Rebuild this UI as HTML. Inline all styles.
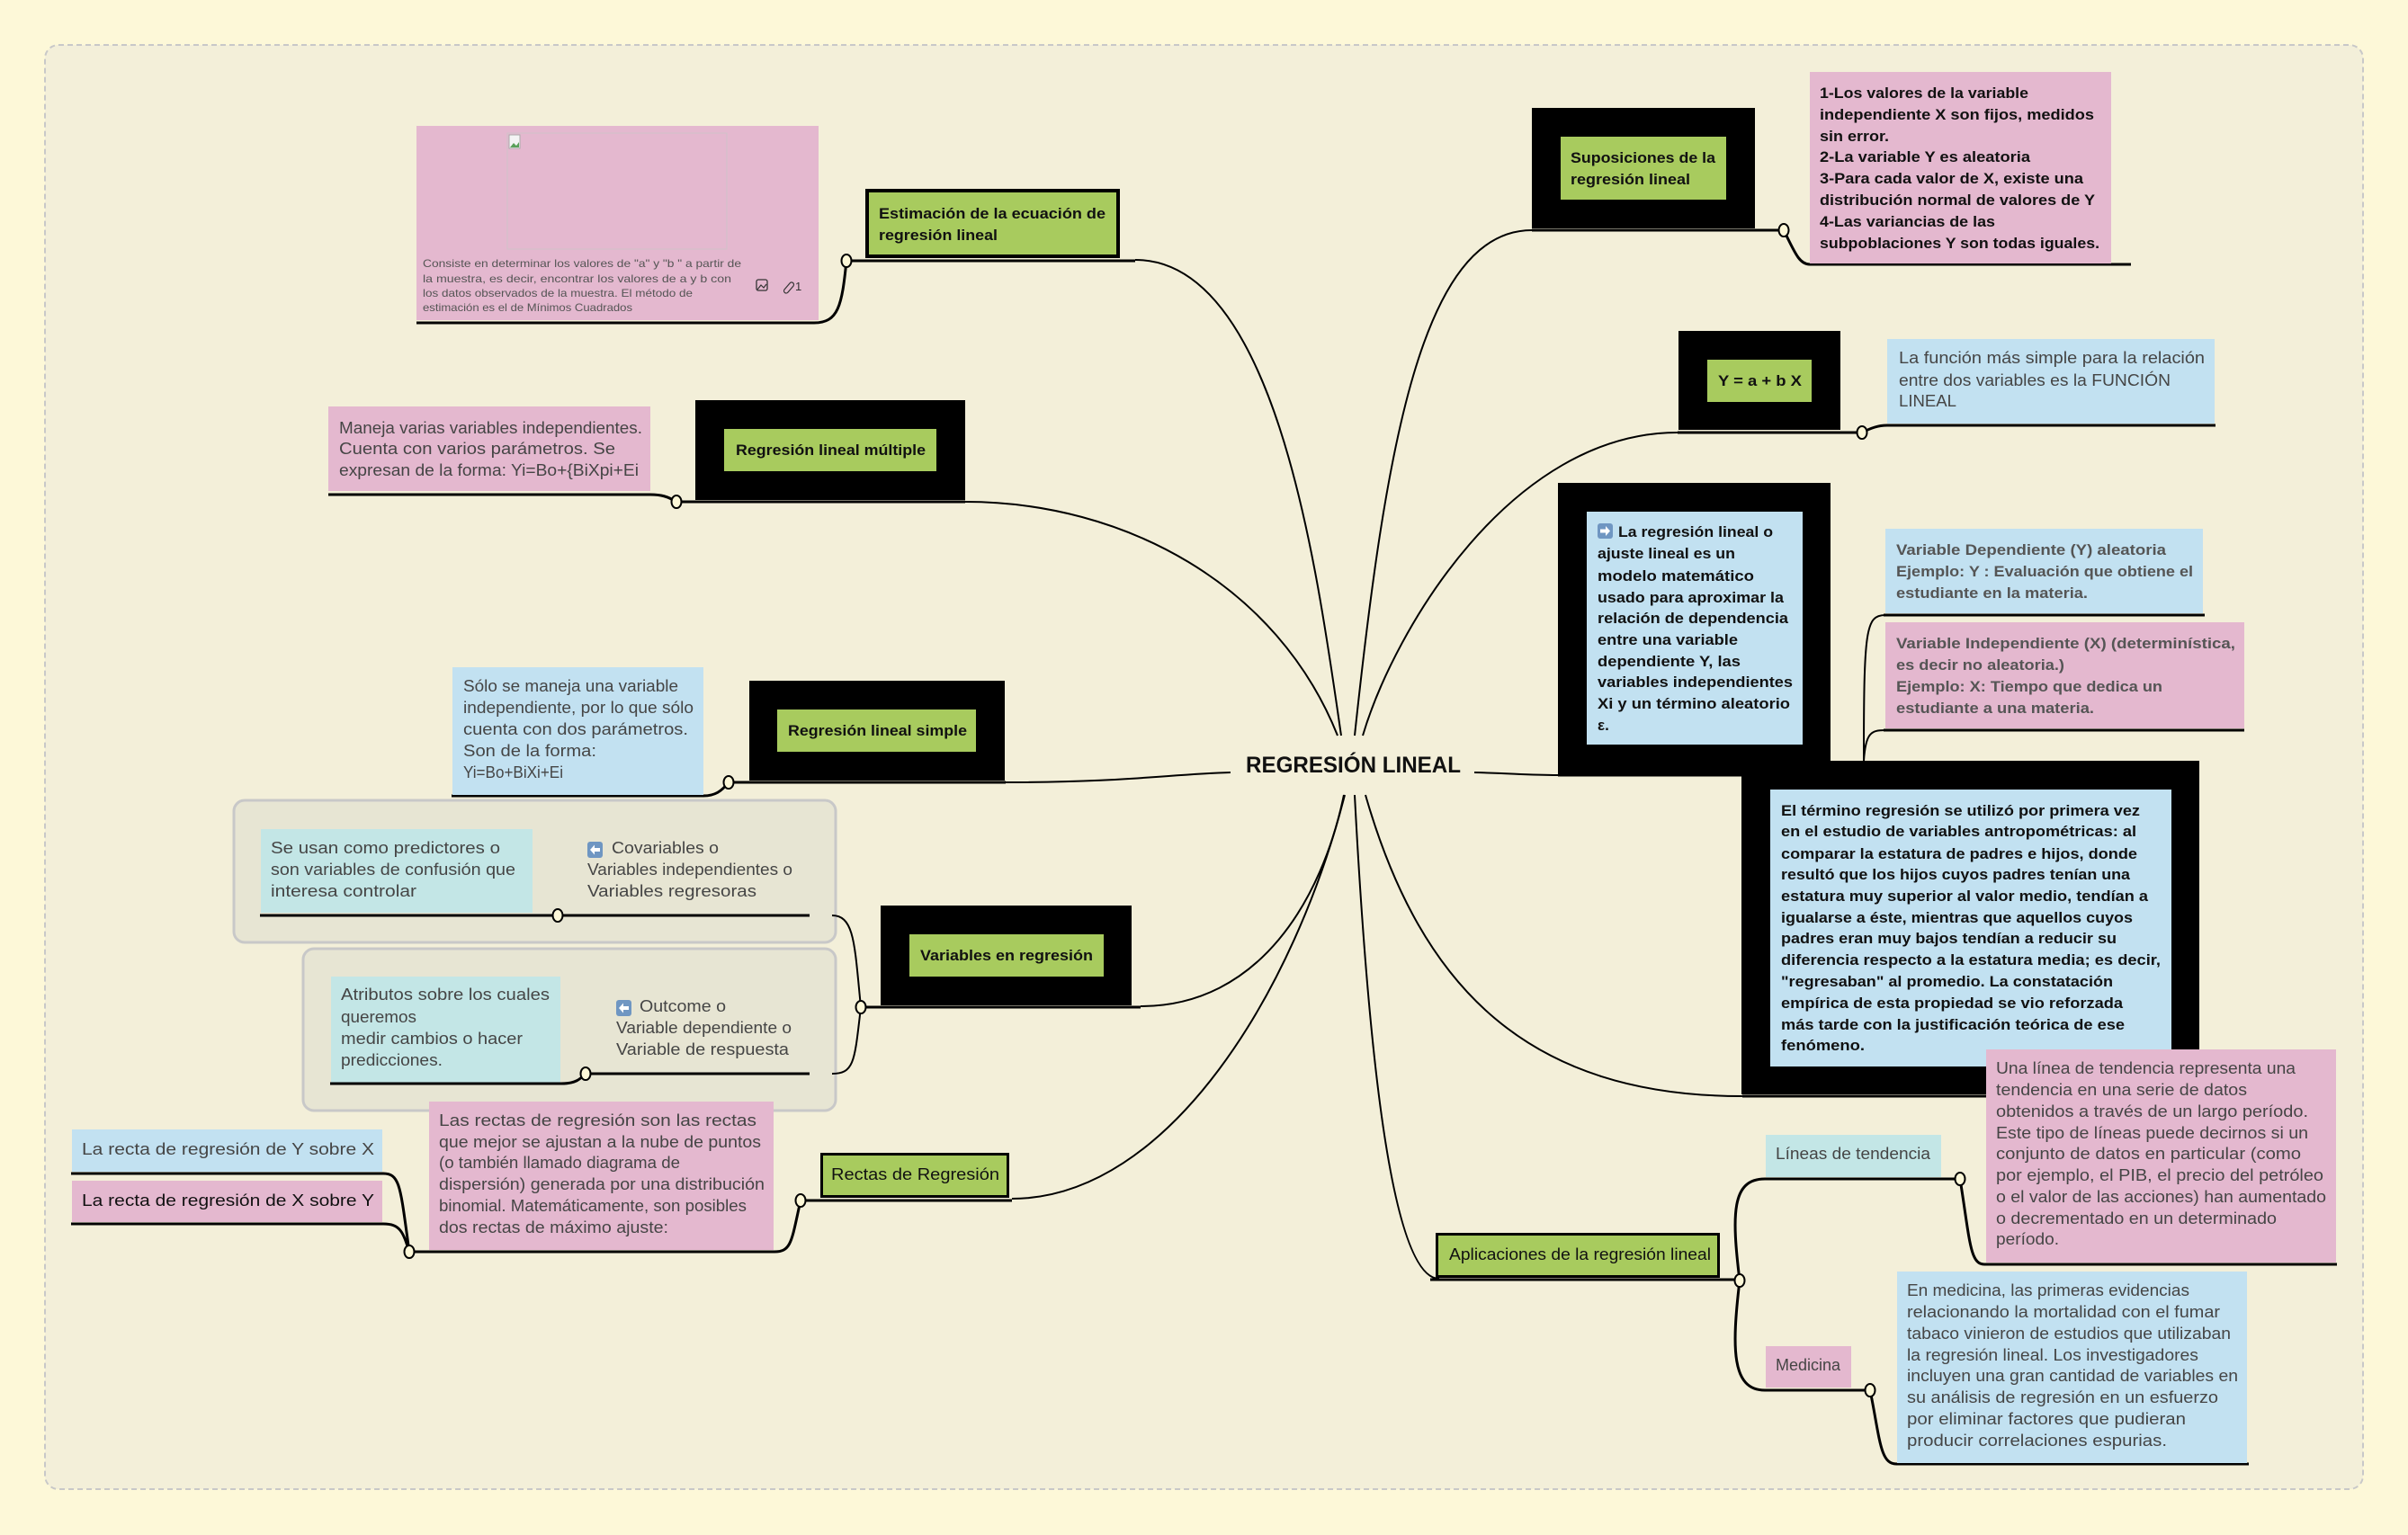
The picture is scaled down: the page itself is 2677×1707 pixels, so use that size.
<!DOCTYPE html>
<html>
<head>
<meta charset="utf-8">
<style>
html,body{margin:0;padding:0;background:#fdf8d8;}
svg{display:block;}
.h{font-family:"Liberation Sans",sans-serif;font-size:18px;fill:#454545;}
.hb{font-family:"Liberation Sans",sans-serif;font-size:18px;fill:#111;}
.b{font-family:"Liberation Sans",sans-serif;font-size:17px;font-weight:bold;fill:#111;}
.gb{font-family:"Liberation Sans",sans-serif;font-size:17px;font-weight:bold;fill:#555;}
.s{font-family:"Liberation Sans",sans-serif;font-size:12px;fill:#555;}
.c{fill:none;stroke:#000;stroke-width:2;}
.u{fill:none;stroke:#000;stroke-width:3;}
.k{fill:#fdf8d8;stroke:#000;stroke-width:2;}
</style>
</head>
<body>
<svg width="2677" height="1707" viewBox="0 0 2677 1707" xmlns="http://www.w3.org/2000/svg">
<rect x="0" y="0" width="2677" height="1707" fill="#fdf8d8"/>
<rect x="50" y="50" width="2577" height="1606" rx="15" ry="15" fill="#f3efd9" stroke="#c8c8c8" stroke-width="2" stroke-dasharray="6 4"/>

<!-- main connectors -->
<path class="c" d="M1491,818 C1465,640 1420,289 1262,289"/>
<path class="c" d="M1487,818 C1420,650 1250,558 1073,558"/>
<path class="c" d="M1506,818 C1540,500 1580,256 1703,256"/>
<path class="c" d="M1515,818 C1550,700 1680,481 1865,481"/>
<path class="c" d="M1368,859 C1300,861 1250,870 1118,870"/>
<path class="c" d="M1639,859 C1680,860 1700,862 1732,862"/>
<path class="c" d="M1494,884 C1470,1000 1400,1119 1268,1119"/>
<path class="c" d="M1495,884 C1440,1100 1300,1333 1125,1333"/>
<path class="c" d="M1506,884 C1520,1150 1545,1422 1600,1422"/>
<path class="c" d="M1518,884 C1580,1100 1700,1219 1937,1219"/>

<!-- underlines & child connectors -->
<path class="u" d="M941,290 H1262"/>
<path class="u" d="M941,290 C936,340 932,359 905,359 H463"/>
<path class="u" d="M752,558 H1073"/>
<path class="u" d="M752,558 C742,552 735,550 723,550 H365"/>
<path class="u" d="M810,870 H1118"/>
<path class="u" d="M810,870 C802,880 795,885 782,885 H502"/>
<path class="u" d="M1732,862 H2071"/>

<!-- boxes left -->
<rect x="463" y="140" width="447" height="216" fill="#e4b8cf"/>
<rect x="564" y="148" width="244" height="129" fill="none" stroke="#d0c2c8" stroke-width="1"/>
<rect x="566" y="150" width="12" height="15" fill="#f4f4f4" stroke="#aaa" stroke-width="1"/>
<path d="M567,164 L571,159 L574,162 L577,158 V164 Z" fill="#5aa05a"/>
<rect x="964" y="212" width="279" height="73" fill="#a8cb5e" stroke="#000" stroke-width="4"/>
<rect x="773" y="445" width="300" height="111" fill="#000"/>
<rect x="805" y="477" width="236" height="47" fill="#a8cb5e"/>
<rect x="365" y="452" width="358" height="94" fill="#e4b8cf"/>
<rect x="833" y="757" width="284" height="111" fill="#000"/>
<rect x="864" y="789" width="221" height="47" fill="#a8cb5e"/>
<rect x="503" y="742" width="279" height="142" fill="#c2e1f1"/>

<rect x="260" y="890" width="669" height="158" rx="12" ry="12" fill="#e7e5d3" stroke="#c8c8c8" stroke-width="3"/>
<rect x="290" y="922" width="302" height="93" fill="#c3e6e6"/>
<rect x="337" y="1055" width="592" height="180" rx="12" ry="12" fill="#e7e5d3" stroke="#c8c8c8" stroke-width="3"/>
<rect x="368" y="1086" width="255" height="118" fill="#c3e6e6"/>
<path class="u" d="M289,1018 H900"/>
<path class="u" d="M651,1194 H900"/>
<path class="u" d="M651,1194 C645,1200 640,1205 624,1205 H367"/>
<path class="c" d="M957,1120 C950,1050 950,1018 925,1018"/>
<path class="c" d="M957,1120 C950,1180 950,1194 925,1194"/>
<path class="u" d="M957,1120 H1268"/>
<rect x="979" y="1007" width="279" height="111" fill="#000"/>
<rect x="1011" y="1039" width="216" height="47" fill="#a8cb5e"/>

<rect x="477" y="1225" width="383" height="165" fill="#e4b8cf"/>
<rect x="80" y="1256" width="345" height="47" fill="#c2e1f1"/>
<rect x="80" y="1313" width="345" height="46" fill="#e4b8cf"/>
<path class="u" d="M890,1335 H1125"/>
<path class="u" d="M890,1335 C880,1380 880,1392 861,1392 H455"/>
<path class="u" d="M455,1392 C445,1320 445,1305 426,1305 H79"/>
<path class="u" d="M455,1392 C448,1370 445,1361 426,1361 H79"/>
<rect x="913.5" y="1283.5" width="207" height="47" fill="#a8cb5e" stroke="#000" stroke-width="3"/>

<!-- boxes right -->
<path class="u" d="M1703,256 H1983"/>
<path class="u" d="M1983,256 C1995,280 2000,294 2012,294 H2369"/>
<rect x="1703" y="120" width="248" height="134" fill="#000"/>
<rect x="1735" y="152" width="184" height="70" fill="#a8cb5e"/>
<rect x="2012" y="80" width="335" height="213" fill="#e4b8cf"/>

<path class="u" d="M1865,481 H2070"/>
<path class="u" d="M2070,481 C2080,476 2088,473 2098,473 H2463"/>
<rect x="1866" y="368" width="180" height="110" fill="#000"/>
<rect x="1898" y="400" width="116" height="47" fill="#a8cb5e"/>
<rect x="2098" y="377" width="364" height="94" fill="#c2e1f1"/>

<rect x="1732" y="537" width="303" height="324" fill="#000"/>
<rect x="1764" y="569" width="240" height="259" fill="#c2e1f1"/>

<path class="c" d="M2072,846 C2072,700 2074,684 2096,684"/>
<path class="c" d="M2072,846 C2074,815 2080,812 2096,812"/>
<path class="u" d="M2094,684 H2451"/>
<path class="u" d="M2094,812 H2495"/>
<rect x="2096" y="588" width="353" height="94" fill="#c2e1f1"/>
<rect x="2096" y="692" width="399" height="118" fill="#e4b8cf"/>

<path class="u" d="M1937,1219 H2208"/>
<rect x="1936" y="846" width="509" height="371" fill="#000"/>
<rect x="1968" y="878" width="446" height="308" fill="#c2e1f1"/>

<path class="u" d="M1590,1423 H1934"/>
<path class="u" d="M1934,1424 C1925,1350 1925,1311 1962,1311 H2179"/>
<path class="u" d="M1934,1424 C1925,1500 1925,1546 1962,1546 H2079"/>
<path class="u" d="M2179,1311 C2190,1380 2190,1406 2206,1406 H2598"/>
<path class="u" d="M2079,1546 C2090,1600 2090,1628 2108,1628 H2500"/>
<rect x="2208" y="1167" width="389" height="237" fill="#e4b8cf"/>
<rect x="1597.5" y="1372.5" width="313" height="47" fill="#a8cb5e" stroke="#000" stroke-width="3"/>
<rect x="1963" y="1262" width="195" height="47" fill="#c3e6e6"/>
<rect x="1963" y="1497" width="95" height="46" fill="#e4b8cf"/>
<rect x="2109" y="1414" width="389" height="213" fill="#c2e1f1"/>

<!-- circles -->
<ellipse class="k" cx="941" cy="290" rx="5.5" ry="7"/>
<ellipse class="k" cx="752" cy="558" rx="5.5" ry="7"/>
<ellipse class="k" cx="810" cy="870" rx="5.5" ry="7"/>
<ellipse class="k" cx="957" cy="1120" rx="5.5" ry="7"/>
<ellipse class="k" cx="620" cy="1018" rx="5.5" ry="7"/>
<ellipse class="k" cx="651" cy="1194" rx="5.5" ry="7"/>
<ellipse class="k" cx="890" cy="1335" rx="5.5" ry="7"/>
<ellipse class="k" cx="455" cy="1392" rx="5.5" ry="7"/>
<ellipse class="k" cx="1983" cy="256" rx="5.5" ry="7"/>
<ellipse class="k" cx="2070" cy="481" rx="5.5" ry="7"/>
<ellipse class="k" cx="1934" cy="1424" rx="5.5" ry="7"/>
<ellipse class="k" cx="2179" cy="1311" rx="5.5" ry="7"/>
<ellipse class="k" cx="2079" cy="1546" rx="5.5" ry="7"/>

<!-- icons -->
<g>
<rect x="1776" y="582" width="17" height="17" rx="3" fill="#6f96c2"/>
<path d="M1779,588.5 H1785 V585 L1790,590.5 L1785,596 V592.5 H1779 Z" fill="#fff"/>
<rect x="653" y="936" width="17" height="18" rx="3" fill="#6f96c2"/>
<path d="M667,943 H661 V939.5 L656,945 L661,950.5 V947 H667 Z" fill="#fff"/>
<rect x="685" y="1112" width="17" height="18" rx="3" fill="#6f96c2"/>
<path d="M699,1119 H693 V1115.5 L688,1121 L693,1126.5 V1123 H699 Z" fill="#fff"/>
<rect x="841" y="311" width="12" height="12" rx="2" fill="none" stroke="#333" stroke-width="1.3"/>
<path d="M842,322 L846,317 L849,320 L852,316" fill="none" stroke="#333" stroke-width="1.2"/>
<path d="M872,322 l6,-7 a2.5,2.5 0 0 1 4,3 l-6,7 a2.5,2.5 0 0 1 -4,-3 z" fill="none" stroke="#333" stroke-width="1.2"/>
<text x="884" y="323" class="s" style="fill:#333;font-size:13px">1</text>
</g>

<!-- texts -->
<text class="b" x="1385" y="859" textLength="239" lengthAdjust="spacingAndGlyphs" style="font-size:25px">REGRESIÓN LINEAL</text>

<g class="s">
<text x="470" y="297" textLength="354" lengthAdjust="spacingAndGlyphs">Consiste en determinar los valores de "a" y "b " a partir de</text>
<text x="470" y="314" textLength="343" lengthAdjust="spacingAndGlyphs">la muestra, es decir, encontrar los valores de a y b con</text>
<text x="470" y="330" textLength="300" lengthAdjust="spacingAndGlyphs">los datos observados de la muestra. El método de</text>
<text x="470" y="346" textLength="233" lengthAdjust="spacingAndGlyphs">estimación es el de Mínimos Cuadrados</text>
</g>

<text class="b" x="977" y="243" textLength="252" lengthAdjust="spacingAndGlyphs">Estimación de la ecuación de</text>
<text class="b" x="977" y="267" textLength="132" lengthAdjust="spacingAndGlyphs">regresión lineal</text>
<text class="b" x="818" y="506" textLength="211" lengthAdjust="spacingAndGlyphs">Regresión lineal múltiple</text>
<text class="b" x="876" y="818" textLength="199" lengthAdjust="spacingAndGlyphs">Regresión lineal simple</text>
<text class="b" x="1023" y="1068" textLength="192" lengthAdjust="spacingAndGlyphs">Variables en regresión</text>

<g class="h">
<text x="377" y="482" textLength="337" lengthAdjust="spacingAndGlyphs">Maneja varias variables independientes.</text>
<text x="377" y="505" textLength="307" lengthAdjust="spacingAndGlyphs">Cuenta con varios parámetros. Se</text>
<text x="377" y="529" textLength="333" lengthAdjust="spacingAndGlyphs">expresan de la forma: Yi=Bo+{BiXpi+Ei</text>

<text x="515" y="769" textLength="239" lengthAdjust="spacingAndGlyphs">Sólo se maneja una variable</text>
<text x="515" y="793" textLength="256" lengthAdjust="spacingAndGlyphs">independiente, por lo que sólo</text>
<text x="515" y="817" textLength="250" lengthAdjust="spacingAndGlyphs">cuenta con dos parámetros.</text>
<text x="515" y="841" textLength="148" lengthAdjust="spacingAndGlyphs">Son de la forma:</text>
<text x="515" y="865" textLength="111" lengthAdjust="spacingAndGlyphs">Yi=Bo+BiXi+Ei</text>

<text x="301" y="949" textLength="255" lengthAdjust="spacingAndGlyphs">Se usan como predictores o</text>
<text x="301" y="973" textLength="272" lengthAdjust="spacingAndGlyphs">son variables de confusión que</text>
<text x="301" y="997" textLength="162" lengthAdjust="spacingAndGlyphs">interesa controlar</text>

<text x="680" y="949" textLength="119" lengthAdjust="spacingAndGlyphs">Covariables o</text>
<text x="653" y="973" textLength="228" lengthAdjust="spacingAndGlyphs">Variables independientes o</text>
<text x="653" y="997" textLength="188" lengthAdjust="spacingAndGlyphs">Variables regresoras</text>

<text x="379" y="1112" textLength="232" lengthAdjust="spacingAndGlyphs">Atributos sobre los cuales</text>
<text x="379" y="1137" textLength="84" lengthAdjust="spacingAndGlyphs">queremos</text>
<text x="379" y="1161" textLength="202" lengthAdjust="spacingAndGlyphs">medir cambios o hacer</text>
<text x="379" y="1185" textLength="113" lengthAdjust="spacingAndGlyphs">predicciones.</text>

<text x="711" y="1125" textLength="96" lengthAdjust="spacingAndGlyphs">Outcome o</text>
<text x="685" y="1149" textLength="195" lengthAdjust="spacingAndGlyphs">Variable dependiente o</text>
<text x="685" y="1173" textLength="192" lengthAdjust="spacingAndGlyphs">Variable de respuesta</text>

<text x="488" y="1252" textLength="353" lengthAdjust="spacingAndGlyphs">Las rectas de regresión son las rectas</text>
<text x="488" y="1276" textLength="358" lengthAdjust="spacingAndGlyphs">que mejor se ajustan a la nube de puntos</text>
<text x="488" y="1299" textLength="268" lengthAdjust="spacingAndGlyphs">(o también llamado diagrama de</text>
<text x="488" y="1323" textLength="362" lengthAdjust="spacingAndGlyphs">dispersión) generada por una distribución</text>
<text x="488" y="1347" textLength="342" lengthAdjust="spacingAndGlyphs">binomial. Matemáticamente, son posibles</text>
<text x="488" y="1371" textLength="255" lengthAdjust="spacingAndGlyphs">dos rectas de máximo ajuste:</text>

<text x="91" y="1284" textLength="325" lengthAdjust="spacingAndGlyphs">La recta de regresión de Y sobre X</text>

<text x="2111" y="404" textLength="340" lengthAdjust="spacingAndGlyphs">La función más simple para la relación</text>
<text x="2111" y="429" textLength="302" lengthAdjust="spacingAndGlyphs">entre dos variables es la FUNCIÓN</text>
<text x="2111" y="452" textLength="64" lengthAdjust="spacingAndGlyphs">LINEAL</text>

<text x="2219" y="1194" textLength="333" lengthAdjust="spacingAndGlyphs">Una línea de tendencia representa una</text>
<text x="2219" y="1218" textLength="279" lengthAdjust="spacingAndGlyphs">tendencia en una serie de datos</text>
<text x="2219" y="1242" textLength="347" lengthAdjust="spacingAndGlyphs">obtenidos a través de un largo período.</text>
<text x="2219" y="1266" textLength="347" lengthAdjust="spacingAndGlyphs">Este tipo de líneas puede decirnos si un</text>
<text x="2219" y="1289" textLength="339" lengthAdjust="spacingAndGlyphs">conjunto de datos en particular (como</text>
<text x="2219" y="1313" textLength="364" lengthAdjust="spacingAndGlyphs">por ejemplo, el PIB, el precio del petróleo</text>
<text x="2219" y="1337" textLength="367" lengthAdjust="spacingAndGlyphs">o el valor de las acciones) han aumentado</text>
<text x="2219" y="1361" textLength="312" lengthAdjust="spacingAndGlyphs">o decrementado en un determinado</text>
<text x="2219" y="1384" textLength="70" lengthAdjust="spacingAndGlyphs">período.</text>

<text x="1974" y="1289" textLength="172" lengthAdjust="spacingAndGlyphs">Líneas de tendencia</text>
<text x="1974" y="1524" textLength="72" lengthAdjust="spacingAndGlyphs">Medicina</text>

<text x="2120" y="1441" textLength="314" lengthAdjust="spacingAndGlyphs">En medicina, las primeras evidencias</text>
<text x="2120" y="1465" textLength="348" lengthAdjust="spacingAndGlyphs">relacionando la mortalidad con el fumar</text>
<text x="2120" y="1489" textLength="360" lengthAdjust="spacingAndGlyphs">tabaco vinieron de estudios que utilizaban</text>
<text x="2120" y="1513" textLength="324" lengthAdjust="spacingAndGlyphs">la regresión lineal. Los investigadores</text>
<text x="2120" y="1536" textLength="368" lengthAdjust="spacingAndGlyphs">incluyen una gran cantidad de variables en</text>
<text x="2120" y="1560" textLength="346" lengthAdjust="spacingAndGlyphs">su análisis de regresión en un esfuerzo</text>
<text x="2120" y="1584" textLength="310" lengthAdjust="spacingAndGlyphs">por eliminar factores que pudieran</text>
<text x="2120" y="1608" textLength="289" lengthAdjust="spacingAndGlyphs">producir correlaciones espurias.</text>
</g>

<g class="hb">
<text x="91" y="1341" textLength="325" lengthAdjust="spacingAndGlyphs">La recta de regresión de X sobre Y</text>
<text x="924" y="1312" textLength="187" lengthAdjust="spacingAndGlyphs">Rectas de Regresión</text>
<text x="1611" y="1401" textLength="291" lengthAdjust="spacingAndGlyphs">Aplicaciones de la regresión lineal</text>
</g>

<g class="b">
<text x="1746" y="181" textLength="161" lengthAdjust="spacingAndGlyphs">Suposiciones de la</text>
<text x="1746" y="205" textLength="133" lengthAdjust="spacingAndGlyphs">regresión lineal</text>

<text x="2023" y="109" textLength="232" lengthAdjust="spacingAndGlyphs">1-Los valores de la variable</text>
<text x="2023" y="133" textLength="305" lengthAdjust="spacingAndGlyphs">independiente X son fijos, medidos</text>
<text x="2023" y="157" textLength="77" lengthAdjust="spacingAndGlyphs">sin error.</text>
<text x="2023" y="180" textLength="234" lengthAdjust="spacingAndGlyphs">2-La variable Y es aleatoria</text>
<text x="2023" y="204" textLength="293" lengthAdjust="spacingAndGlyphs">3-Para cada valor de X, existe una</text>
<text x="2023" y="228" textLength="306" lengthAdjust="spacingAndGlyphs">distribución normal de valores de Y</text>
<text x="2023" y="252" textLength="195" lengthAdjust="spacingAndGlyphs">4-Las variancias de las</text>
<text x="2023" y="276" textLength="311" lengthAdjust="spacingAndGlyphs">subpoblaciones Y son todas iguales.</text>

<text x="1910" y="429" textLength="93" lengthAdjust="spacingAndGlyphs">Y = a + b X</text>

<text x="1799" y="597" textLength="172" lengthAdjust="spacingAndGlyphs">La regresión lineal o</text>
<text x="1776" y="621" textLength="153" lengthAdjust="spacingAndGlyphs">ajuste lineal es un</text>
<text x="1776" y="646" textLength="174" lengthAdjust="spacingAndGlyphs">modelo matemático</text>
<text x="1776" y="670" textLength="207" lengthAdjust="spacingAndGlyphs">usado para aproximar la</text>
<text x="1776" y="693" textLength="212" lengthAdjust="spacingAndGlyphs">relación de dependencia</text>
<text x="1776" y="717" textLength="156" lengthAdjust="spacingAndGlyphs">entre una variable</text>
<text x="1776" y="741" textLength="159" lengthAdjust="spacingAndGlyphs">dependiente Y, las</text>
<text x="1776" y="764" textLength="217" lengthAdjust="spacingAndGlyphs">variables independientes</text>
<text x="1776" y="788" textLength="214" lengthAdjust="spacingAndGlyphs">Xi y un término aleatorio</text>
<text x="1776" y="812">ε.</text>

<text x="1980" y="907" textLength="399" lengthAdjust="spacingAndGlyphs">El término regresión se utilizó por primera vez</text>
<text x="1980" y="930" textLength="395" lengthAdjust="spacingAndGlyphs">en el estudio de variables antropométricas: al</text>
<text x="1980" y="955" textLength="396" lengthAdjust="spacingAndGlyphs">comparar la estatura de padres e hijos, donde</text>
<text x="1980" y="978" textLength="388" lengthAdjust="spacingAndGlyphs">resultó que los hijos cuyos padres tenían una</text>
<text x="1980" y="1002" textLength="408" lengthAdjust="spacingAndGlyphs">estatura muy superior al valor medio, tendían a</text>
<text x="1980" y="1026" textLength="391" lengthAdjust="spacingAndGlyphs">igualarse a éste, mientras que aquellos cuyos</text>
<text x="1980" y="1049" textLength="373" lengthAdjust="spacingAndGlyphs">padres eran muy bajos tendían a reducir su</text>
<text x="1980" y="1073" textLength="422" lengthAdjust="spacingAndGlyphs">diferencia respecto a la estatura media; es decir,</text>
<text x="1980" y="1097" textLength="369" lengthAdjust="spacingAndGlyphs">"regresaban" al promedio. La constatación</text>
<text x="1980" y="1121" textLength="380" lengthAdjust="spacingAndGlyphs">empírica de esta propiedad se vio reforzada</text>
<text x="1980" y="1145" textLength="382" lengthAdjust="spacingAndGlyphs">más tarde con la justificación teórica de ese</text>
<text x="1980" y="1168" textLength="93" lengthAdjust="spacingAndGlyphs">fenómeno.</text>
</g>

<g class="gb">
<text x="2108" y="617" textLength="300" lengthAdjust="spacingAndGlyphs">Variable Dependiente (Y) aleatoria</text>
<text x="2108" y="641" textLength="330" lengthAdjust="spacingAndGlyphs">Ejemplo: Y : Evaluación que obtiene el</text>
<text x="2108" y="665" textLength="213" lengthAdjust="spacingAndGlyphs">estudiante en la materia.</text>
<text x="2108" y="721" textLength="377" lengthAdjust="spacingAndGlyphs">Variable Independiente (X) (determinística,</text>
<text x="2108" y="745" textLength="187" lengthAdjust="spacingAndGlyphs">es decir no aleatoria.)</text>
<text x="2108" y="769" textLength="296" lengthAdjust="spacingAndGlyphs">Ejemplo: X: Tiempo que dedica un</text>
<text x="2108" y="793" textLength="220" lengthAdjust="spacingAndGlyphs">estudiante a una materia.</text>
</g>
</svg>
</body>
</html>
